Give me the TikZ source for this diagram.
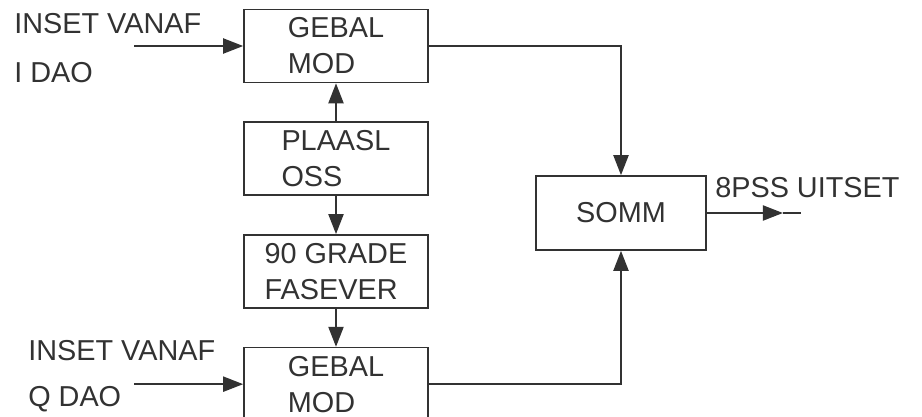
\documentclass[tikz,border=0pt]{standalone}
\usepackage{fontspec}
\setmainfont{Liberation Sans}
\usepackage{tikz}
\usetikzlibrary{arrows.meta, positioning, calc}
\definecolor{inkgray}{RGB}{50, 50, 50}
\newcommand{\blockfont}{\fontsize{20.5}{25.6}\selectfont}

\begin{document}
\begin{tikzpicture}[
    x=0.025cm, y=-0.025cm,
    node distance=0.95cm,
    block/.style={rectangle, draw=inkgray, line width=1.2pt, 
                minimum width=4.6cm, minimum height=1.825cm, align=left,
                font=\blockfont, text=inkgray},
    arrow/.style={-{Triangle[length=5mm, width=3.8mm]}, line width=1.1pt, inkgray},
    wire/.style={line width=1.1pt, inkgray},
    lbl/.style={anchor=base west, inner sep=0pt, font=\blockfont, text=inkgray}
]

\useasboundingbox (0,0) rectangle (922,416);

% Blocks
\node[block] (modI) at (336,46) {GEBAL\\MOD};
\node[block, below=of modI] (osc) {PLAASL\\OSS};
\node[block, below=of osc] (shift) {90 GRADE\\FASEVER};
\node[block, below=of shift] (modQ) {GEBAL\\MOD};
\node[block, minimum width=4.25cm, minimum height=1.85cm] (somm) at (621,213) {SOMM};

% Oscillator paths
\draw[arrow] (osc) -- (modI);
\draw[arrow] (osc) -- (shift);
\draw[arrow] (shift) -- (modQ);

% Inputs
\coordinate (inI) at ([xshift=-2.725cm]modI.west);
\coordinate (inQ) at ([xshift=-2.725cm]modQ.west);
\draw[arrow] (inI) -- (modI.west);
\draw[arrow] (inQ) -- (modQ.west);
\node[lbl] (inIa) at (14,33) {INSET VANAF};
\node[lbl] (inIb) at (14,82) {I DAO};
\node[lbl] (inQa) at (28,360) {INSET VANAF};
\node[lbl] (inQb) at (28,406) {Q DAO};

% To the summer
\draw[arrow] (modI.east) -| (somm.north);
\draw[arrow] (modQ.east) -| (somm.south);

% Output
\coordinate (outtip) at ([xshift=1.9cm]somm.east);
\coordinate (outend) at ([xshift=2.35cm]somm.east);
\draw[arrow] (somm.east) -- (outtip);
\draw[wire] (outtip) -- (outend);
\node[lbl] (outlbl) at (715,197) {8PSS UITSET};

\end{tikzpicture}
\end{document}
